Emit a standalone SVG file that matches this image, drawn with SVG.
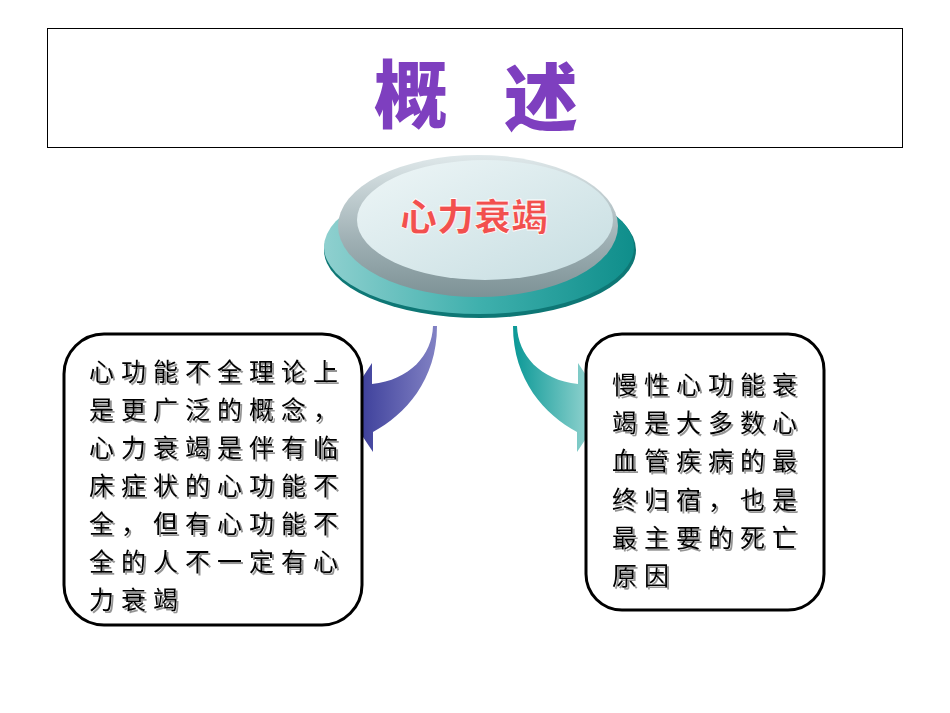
<svg xmlns="http://www.w3.org/2000/svg" width="950" height="713" viewBox="0 0 950 713">
<defs>
<style>
.box{fill:#fff;stroke:#000;stroke-width:3}
.body{font-family:"Noto Sans CJK SC","Noto Sans CJK TC",sans-serif;font-size:25px;letter-spacing:7px;fill:#000}
.title{font-family:"Noto Sans CJK SC",sans-serif;font-size:74px;font-weight:900;fill:#7E3FBF;text-anchor:middle}
</style>
<filter id="sh" x="-10%" y="-10%" width="120%" height="130%">
<feDropShadow dx="2" dy="2" stdDeviation="0.6" flood-color="#888" flood-opacity="0.9"/>
</filter>
<linearGradient id="teal" x1="0" y1="0" x2="1" y2="0">
<stop offset="0" stop-color="#8fd0cf"/><stop offset="0.5" stop-color="#3fb0ad"/><stop offset="1" stop-color="#0f8e8b"/>
</linearGradient>
<linearGradient id="rim" x1="0" y1="0" x2="0" y2="1">
<stop offset="0" stop-color="#dfe8ea"/><stop offset="0.6" stop-color="#9fb0b4"/><stop offset="1" stop-color="#7d9296"/>
</linearGradient>
<linearGradient id="face" x1="0" y1="0" x2="1" y2="1">
<stop offset="0" stop-color="#eef6f7"/><stop offset="1" stop-color="#c6dde1"/>
</linearGradient>
<linearGradient id="blueArr" x1="343" y1="0" x2="437" y2="0" gradientUnits="userSpaceOnUse">
<stop offset="0" stop-color="#2e3192"/><stop offset="1" stop-color="#8282c4"/>
</linearGradient>
<linearGradient id="tealArr" x1="513" y1="0" x2="607" y2="0" gradientUnits="userSpaceOnUse">
<stop offset="0" stop-color="#0a9896"/><stop offset="1" stop-color="#b0e0dc"/>
</linearGradient>
</defs>
<rect width="950" height="713" fill="#fff"/>
<g id="title">
<rect x="47.5" y="28.5" width="855" height="119" fill="#fff" stroke="#000" stroke-width="1"/>
<text class="title" x="411" y="122">概</text>
<text class="title" x="541" y="125">述</text>
</g>
<g id="center">
<ellipse cx="480" cy="250" rx="156" ry="68" fill="#0e7775"/>
<ellipse cx="479" cy="247" rx="155" ry="67" fill="url(#teal)"/>
<ellipse cx="478" cy="226" rx="140" ry="71" fill="url(#rim)"/>
<ellipse cx="485" cy="220" rx="128" ry="60" fill="url(#face)"/>
<text x="474" y="231" font-family="'Noto Sans CJK SC',sans-serif" font-size="37" font-weight="900" fill="#f2504e" text-anchor="middle" stroke="#fff" stroke-width="0.8">心力衰竭</text>
</g>
<g id="connectors">
<path d="M 433 326 C 432 355 410 380 372 384 L 372 363 L 343 407 L 373 452 L 373 432 C 405 415 437 380 437 326 Z" fill="url(#blueArr)"/>
<path d="M 517 326 C 518 355 540 380 578 384 L 578 363 L 607 407 L 577 452 L 577 432 C 545 415 513 380 513 326 Z" fill="url(#tealArr)"/>
</g>
<g id="left-box">
<rect class="box" x="64" y="334" width="298" height="291" rx="40"/>
<g class="body" filter="url(#sh)">
<text x="89" y="381">心功能不全理论上</text>
<text x="89" y="419">是更广泛的概念，</text>
<text x="89" y="457">心力衰竭是伴有临</text>
<text x="89" y="495">床症状的心功能不</text>
<text x="89" y="533">全，但有心功能不</text>
<text x="89" y="571">全的人不一定有心</text>
<text x="89" y="609">力衰竭</text>
</g>
</g>
<g id="right-box">
<rect class="box" x="586" y="334" width="238" height="276" rx="36"/>
<g class="body" filter="url(#sh)">
<text x="612" y="394">慢性心功能衰</text>
<text x="612" y="432">竭是大多数心</text>
<text x="612" y="470">血管疾病的最</text>
<text x="612" y="509">终归宿，也是</text>
<text x="612" y="547">最主要的死亡</text>
<text x="612" y="585">原因</text>
</g>
</g>
</svg>
